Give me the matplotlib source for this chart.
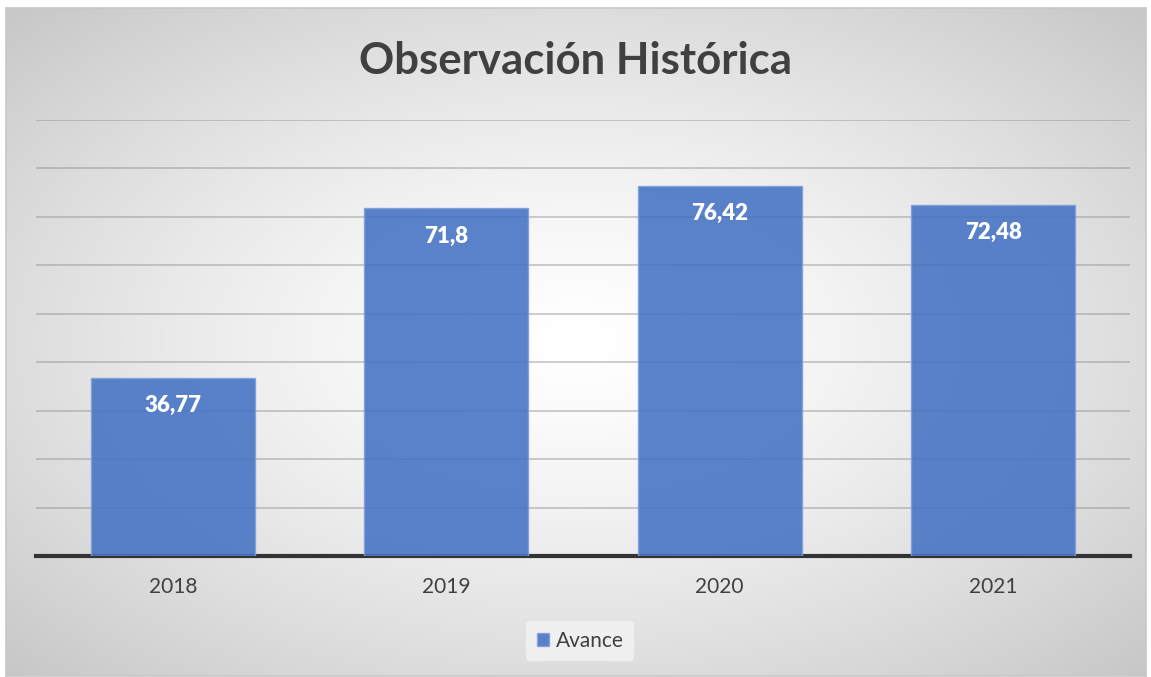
import numpy as np
import matplotlib.pyplot as plt

years = ["2018", "2019", "2020", "2021"]
avance = [36.77, 71.8, 76.42, 72.48]
value_labels = ["36,77", "71,8", "76,42", "72,48"]

plt.rcParams['font.family'] = ['Lato', 'DejaVu Sans']

fig = plt.figure(figsize=(11.51, 6.77), dpi=100)

# chart area background: radial gradient, white in the middle, gray at the corners
bg = fig.add_axes([6 / 1151, 1 - 676 / 677, 1140 / 1151, 668 / 677], zorder=0)
yy, xx = np.mgrid[-1:1:300j, -1:1:500j]
r = np.sqrt(xx ** 2 + yy ** 2) / np.sqrt(2)
shade = 1.0 - 0.22 * r ** 1.4
bg.imshow(np.dstack([shade, shade, shade]), aspect='auto',
          extent=[0, 1, 0, 1], interpolation='bilinear')
bg.set_xlim(0, 1)
bg.set_ylim(0, 1)
bg.set_xticks([])
bg.set_yticks([])
for s in bg.spines.values():
    s.set_color('#c8c8c8')
    s.set_linewidth(1.2)

ax = fig.add_axes([36 / 1151, 121 / 677, 1094 / 1151, 436 / 677], zorder=1)
ax.patch.set_alpha(0)

x = np.arange(len(years))
bars = ax.bar(x, avance, width=0.6, color='#4472C4', alpha=0.88,
              edgecolor='#7f9fd8', linewidth=1, zorder=3, label='Avance')

for xi, v, lab in zip(x, avance, value_labels):
    ax.annotate(lab, (xi, v), xytext=(0, -20), textcoords='offset points',
                ha='center', va='center', color='white', fontsize=16,
                fontweight='heavy', zorder=4)

ax.set_xlim(-0.5, 3.5)
ax.set_ylim(0, 90)
ax.set_yticks(np.arange(10, 100, 10))
ax.yaxis.grid(True, color='#8c8c8c', linewidth=1.2, alpha=0.5, zorder=1)
ax.set_axisbelow(True)
ax.tick_params(axis='y', left=False, labelleft=False)
ax.set_xticks(x)
ax.set_xticklabels(years, fontsize=15, color='#404040')
ax.tick_params(axis='x', length=0, pad=15)
for side in ['top', 'right', 'left']:
    ax.spines[side].set_visible(False)
ax.spines['bottom'].set_color('#333333')
ax.spines['bottom'].set_linewidth(3)

fig.text(0.5, 1 - 61 / 677, "Observación Histórica", ha='center', va='center',
         fontsize=31.5, fontweight='bold', color='#404040')

leg = fig.legend(handles=[bars], labels=['Avance'], loc='center',
                 bbox_to_anchor=(580 / 1151, 1 - 641 / 677), frameon=True,
                 fontsize=15, handlelength=0.6, handleheight=0.6,
                 handletextpad=0.3, borderpad=0.5)
leg.get_frame().set_facecolor('#f4f4f4')
leg.get_frame().set_edgecolor('none')
for t in leg.get_texts():
    t.set_color('#404040')

fig.savefig('out.png', dpi=100)
